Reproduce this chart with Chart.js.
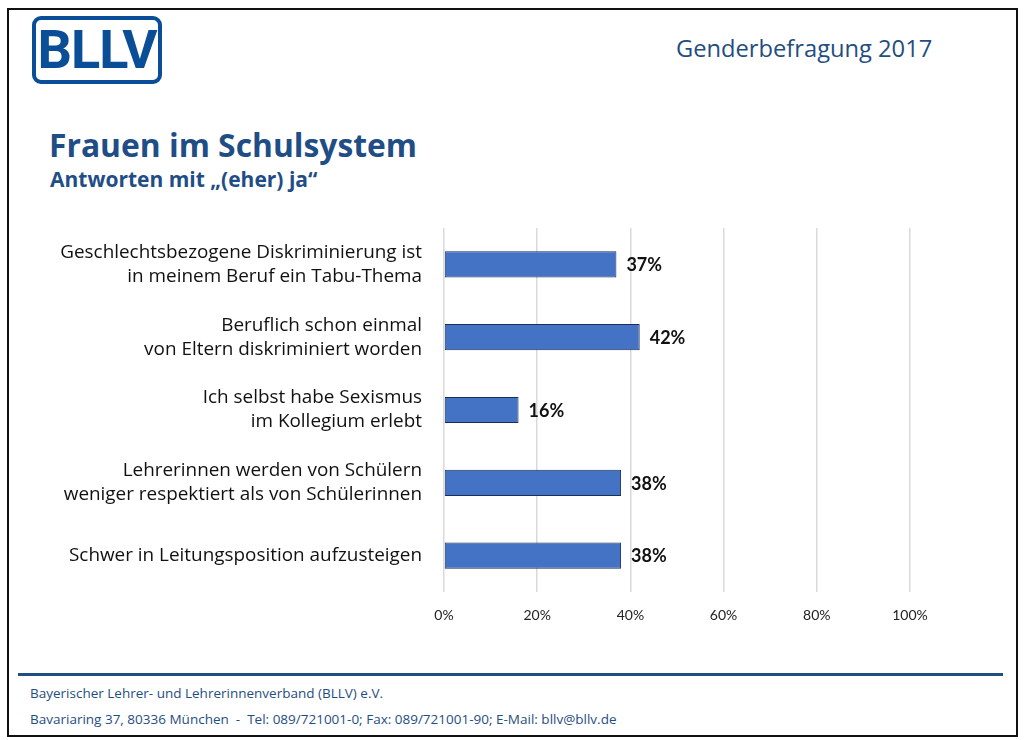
<!DOCTYPE html>
<html>
<head>
<meta charset="utf-8">
<script src="https://cdn.jsdelivr.net/npm/chart.js@4.4.0/dist/chart.umd.min.js"></script>
<style>
html,body{margin:0;padding:0;background:#fff;}
body{width:1024px;height:740px;position:relative;overflow:hidden;font-family:"Open Sans",sans-serif;}
#frame{position:absolute;left:7px;top:8px;width:1007px;height:725px;border:2px solid #111;}
#logo{position:absolute;left:32px;top:16px;width:122px;height:60px;border:4px solid #0b4e98;border-radius:9px;color:#0b4e98;font:bold 54px "Liberation Sans Narrow",Roboto,sans-serif;text-align:center;line-height:60px;letter-spacing:-1px;}
#top{position:absolute;left:676px;top:32px;font:23.7px "Open Sans",sans-serif;color:#1f4e80;}
#title{position:absolute;left:49px;top:123px;font:bold 31.8px "Open Sans",sans-serif;color:#1f4e86;}
#sub{position:absolute;left:50px;top:165px;font:bold 21px "Open Sans",sans-serif;color:#1f4e86;}
#line{position:absolute;left:18px;top:673px;width:985px;height:3px;background:#1f4e80;}
.foot{position:absolute;left:30px;font:13.5px "Open Sans",sans-serif;color:#1f4e80;}
canvas{position:absolute;left:0;top:0;}
</style>
</head>
<body>
<div id="frame"></div>
<div id="logo">BLLV</div>
<div id="top">Genderbefragung 2017</div>
<div id="title">Frauen im Schulsystem</div>
<div id="sub">Antworten mit „(eher) ja“</div>
<div id="line"></div>
<div class="foot" style="top:684px">Bayerischer Lehrer- und Lehrerinnenverband (BLLV) e.V.</div>
<div class="foot" style="top:710px">Bavariaring 37, 80336 München &nbsp;- &nbsp;Tel: 089/721001-0; Fax: 089/721001-90; E-Mail: bllv@bllv.de</div>
<canvas id="c" width="1024" height="740"></canvas>
<script>
const categories = [
  ["Geschlechtsbezogene Diskriminierung ist", "in meinem Beruf ein Tabu-Thema"],
  ["Beruflich schon einmal", "von Eltern diskriminiert worden"],
  ["Ich selbst habe Sexismus", "im Kollegium erlebt"],
  ["Lehrerinnen werden von Schülern", "weniger respektiert als von Schülerinnen"],
  "Schwer in Leitungsposition aufzusteigen"
];
const values = [37, 42, 16, 38, 38];
const tickValues = [0, 20, 40, 60, 80, 100];

const valueLabels = {
  id: 'valueLabels',
  afterDatasetsDraw(chart) {
    const ctx = chart.ctx;
    const meta = chart.getDatasetMeta(0);
    ctx.save();
    ctx.font = 'bold 18px Lato, sans-serif';
    ctx.fillStyle = '#111';
    ctx.textAlign = 'left';
    ctx.textBaseline = 'middle';
    meta.data.forEach((bar, i) => {
      ctx.fillText(values[i] + '%', bar.x + 10, bar.y + 1);
    });
    ctx.restore();
  }
};

new Chart(document.getElementById('c'), {
  type: 'bar',
  data: {
    labels: categories,
    datasets: [{
      data: values,
      backgroundColor: '#4472c4',
      borderColor: '#1a2f55',
      borderWidth: 1,
      borderSkipped: false,
      barPercentage: 0.36,
      categoryPercentage: 1
    }]
  },
  options: {
    indexAxis: 'y',
    responsive: false,
    animation: false,
    layout: { padding: { top: 228, right: 114, left: 0, bottom: 0 } },
    plugins: { legend: { display: false }, tooltip: { enabled: false } },
    scales: {
      x: {
        min: 0, max: 100,
        afterBuildTicks(scale) { scale.ticks = tickValues.map(v => ({ value: v })); },
        afterFit(scale) { scale.height = 148; },
        grid: { color: '#d9d9d9', lineWidth: 1.5, drawTicks: false },
        border: { display: false },
        ticks: {
          padding: 15,
          color: '#222',
          font: { family: 'Lato, sans-serif', size: 14 },
          callback: v => v + '%'
        }
      },
      y: {
        afterFit(scale) { scale.width = 444; },
        grid: { display: false, drawTicks: false },
        border: { display: false },
        ticks: {
          padding: 22,
          color: '#111',
          font: { family: '"Open Sans", sans-serif', size: 18.9, lineHeight: 1.27 }
        }
      }
    }
  },
  plugins: [valueLabels]
});
</script>
</body>
</html>
